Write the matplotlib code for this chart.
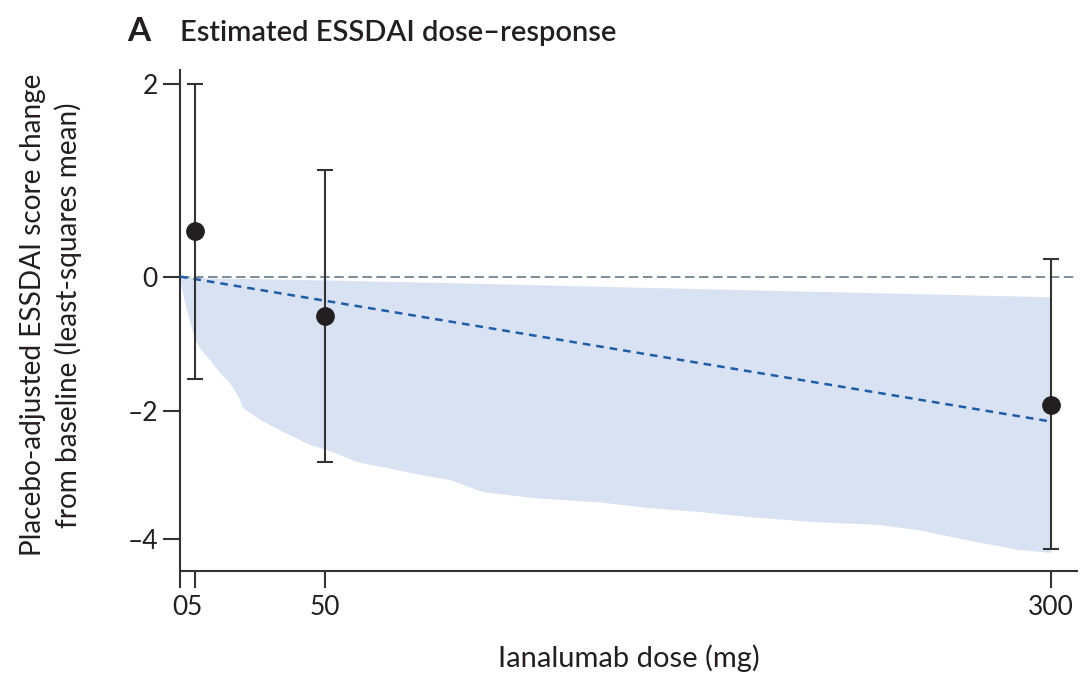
import numpy as np
import matplotlib
matplotlib.use("Agg")
import matplotlib.pyplot as plt

plt.rcParams["font.family"] = ["Lato", "DejaVu Sans"]
plt.rcParams["lines.scale_dashes"] = False

# --- data ---
doses = [5, 50, 300]
ls_mean = [0.47, -0.58, -1.90]
ci_low = [-1.52, -2.79, -4.16]
ci_high = [2.00, 1.11, 0.18]

# fitted linear dose-response (dashed blue)
fit_x = [0, 300]
fit_y = [0.0, -2.16]

# credible band
band_x = [0, 0.3, 1.4, 2.8, 4.1, 6.2, 10.3, 13.8, 17.2, 20.0, 21.7, 27.6, 35.5,
          44.8, 50.6, 61, 71.3, 82.7, 93, 104.4, 121.6, 144.7, 161.9, 179.1,
          196.3, 219.4, 240.1, 253.9, 271.1, 288.3, 300]
band_low = [0, -0.12, -0.35, -0.58, -0.79, -1.03, -1.24, -1.43, -1.58, -1.78,
            -1.95, -2.13, -2.32, -2.52, -2.60, -2.79, -2.88, -2.99, -3.07,
            -3.26, -3.35, -3.42, -3.51, -3.57, -3.65, -3.73, -3.77, -3.85,
            -4.01, -4.16, -4.21]
up_x = [0, 10, 50, 93, 150, 200, 250, 300]
up_y = [0, -0.02, -0.05, -0.09, -0.15, -0.20, -0.25, -0.30]
band_high = np.interp(band_x, up_x, up_y)

xticks = [0, 5, 50, 300]
yticks = [2, 0, -2, -4]

# the published y axis is not evenly spaced; map tick values to their spacing
YK = np.array([-4.0, -2.0, 0.0, 2.0])
PK = np.array([0.0, 127.8, 262.6, 455.3])


def _pw(v, a, b):
    v = np.asarray(v, dtype=float)
    out = np.interp(v, a, b)
    s_lo = (b[1] - b[0]) / (a[1] - a[0])
    s_hi = (b[-1] - b[-2]) / (a[-1] - a[-2])
    out = np.where(v < a[0], b[0] + (v - a[0]) * s_lo, out)
    out = np.where(v > a[-1], b[-1] + (v - a[-1]) * s_hi, out)
    return out


def fwd(v):
    return _pw(v, YK, PK)


def inv(v):
    return _pw(v, PK, YK)


W, H = 1081, 675
fig = plt.figure(figsize=(W / 100, H / 100), dpi=100)
ax = fig.add_axes([180 / W, 1 - 571 / H, 897 / W, 501 / H])
ax.set_yscale("function", functions=(fwd, inv))

ax.fill_between(band_x, band_low, band_high, color="#d9e2f3", lw=0, zorder=1)
ax.axhline(0, color="#55707a", lw=1.1, dashes=(6.8, 3.3), zorder=2)
ax.plot(fit_x, fit_y, color="#1f5ca6", lw=1.8, dashes=(5.5, 4.3), zorder=3)

yerr = [np.array(ls_mean) - np.array(ci_low), np.array(ci_high) - np.array(ls_mean)]
ax.errorbar(doses, ls_mean, yerr=yerr, fmt="o", color="#231f20", ecolor="#333333",
            elinewidth=1.5, capsize=6, capthick=1.5, markersize=12.5, zorder=4)

ax.set_xlim(0, 309)
ax.set_ylim(-4.5, 2.145)
ax.set_xticks(xticks)
ax.set_xticklabels(["0", "5", "50", "300"])
ax.set_yticks(yticks)
ax.set_yticklabels(["2", "0", "\u20132", "\u20134"])
ax.minorticks_off()

for side in ["top", "right"]:
    ax.spines[side].set_visible(False)
for side in ["left", "bottom"]:
    ax.spines[side].set_linewidth(1.5)
    ax.spines[side].set_color("#333333")
ax.tick_params(length=12, width=1.5, color="#333333", labelsize=19,
               labelcolor="#231f20")
ax.tick_params(axis="y", pad=4)
ax.tick_params(axis="x", pad=5)

ax.set_xlabel("Ianalumab dose (mg)", fontsize=21, color="#231f20", labelpad=18)
fig.text(51 / W, 1 - 315 / H,
         "Placebo-adjusted ESSDAI score change\nfrom baseline (least-squares mean)",
         rotation=90, ha="center", va="center", fontsize=20.2, color="#231f20",
         linespacing=1.4)

fig.text(127 / W, 1 - 41 / H, "A", fontsize=24, fontweight="bold", color="#231f20")
fig.text(180 / W, 1 - 41 / H, "Estimated ESSDAI dose\u2013response", fontsize=21,
         fontweight="semibold", color="#231f20")

fig.savefig("out.png", dpi=100)
